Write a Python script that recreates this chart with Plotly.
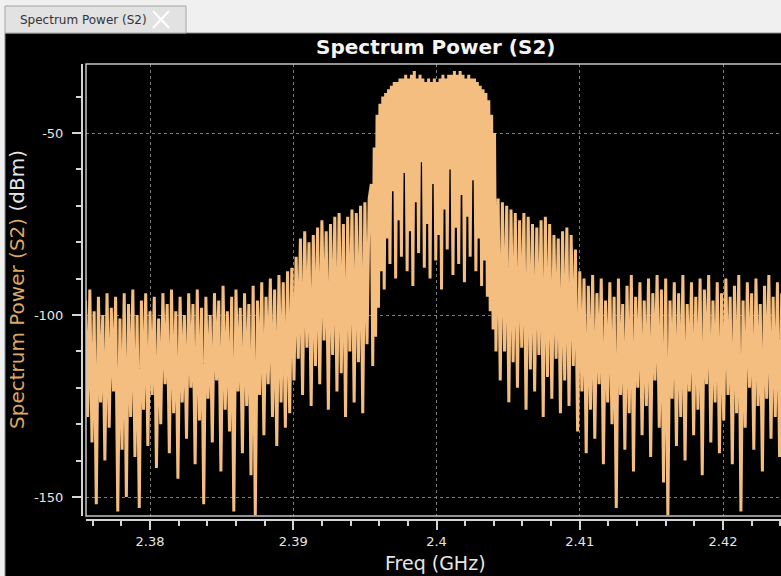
import numpy as np
import plotly.graph_objects as go

W, H = 781, 576

# ---------------- data ----------------
# each spectrum segment: its first frequency (GHz), its bin step (GHz) and its values (dBm)
floor_left_start_ghz, floor_left_step_ghz = 2.3755, 0.00015
floor_left_dbm = [
    -96, -128, -93, -135, -99, -152, -95, -124, -100, -140,
    -94, -131, -98, -121, -95, -154, -101, -137, -94, -150,
    -97, -128, -93, -139, -100, -153, -96, -126, -94, -136,
    -99, -122, -95, -142, -101, -130, -94, -119, -97, -138,
    -93, -127, -99, -145, -95, -124, -100, -134, -94, -120,
    -97, -141, -93, -129, -98, -152, -95, -123, -100, -135,
    -94, -118, -96, -143, -92, -126, -99, -132, -95, -154,
    -93, -121, -98, -138, -94, -125, -97, -144, -92, -155,
    -96, -122, -91, -133, -95, -119, -90, -128, -93, -136,
    -89, -124, -91, -131, -88, -127, -87,
]
shoulder_left_start_ghz, shoulder_left_step_ghz = 2.39005, 0.00015
shoulder_left_dbm = [
    -118, -84, -112, -79, -122, -77, -109, -80, -125, -78,
    -114, -76, -119, -74, -107, -77, -126, -75, -111, -73,
    -121, -72, -116, -75, -128, -73, -110, -71, -124, -72,
    -113, -70, -127, -69, -108, -68,
]
main_band_start_ghz, main_band_step_ghz = 2.39545, 0.0001
main_band_dbm = [
    -64, -114, -54, -106, -45, -98, -42, -88, -40, -93,
    -39, -79, -38, -86, -37, -66, -36, -90, -36, -74,
    -35, -84, -35, -61, -34, -88, -35, -77, -34, -92,
    -33, -69, -35, -83, -34, -58, -35, -87, -36, -75,
    -35, -90, -36, -64, -35, -85, -36, -78, -35, -93,
    -34, -71, -35, -82, -34, -60, -34, -89, -33, -76,
    -34, -86, -33, -67, -34, -91, -35, -73, -34, -84,
    -35, -63, -35, -88, -36, -79, -37, -92, -38, -85,
    -39, -95, -41, -99, -45, -104, -50, -110,
]
shoulder_right_start_ghz, shoulder_right_step_ghz = 2.4043, 0.00015
shoulder_right_dbm = [
    -68, -118, -69, -110, -70, -124, -71, -113, -72, -120,
    -74, -109, -72, -126, -73, -115, -75, -121, -76, -111,
    -74, -128, -73, -117, -75, -123, -78, -112, -79, -127,
    -77, -118, -76, -125, -78, -114, -82,
]
floor_right_start_ghz, floor_right_step_ghz = 2.40985, 0.00015
floor_right_dbm = [
    -132, -88, -121, -90, -138, -92, -126, -89, -134, -94,
    -119, -90, -141, -96, -124, -91, -130, -95, -153, -90,
    -122, -97, -137, -92, -127, -89, -143, -95, -120, -91,
    -133, -96, -125, -90, -139, -94, -118, -89, -131, -93,
    -146, -90, -155, -96, -123, -91, -136, -94, -128, -89,
    -140, -97, -121, -91, -133, -95, -126, -90, -144, -93,
    -119, -89, -135, -96, -124, -91, -138, -94, -129, -90,
    -122, -95, -141, -92, -127, -89, -154, -96, -131, -91,
    -120, -94, -137, -90, -125, -97, -143, -92, -123, -89,
    -134, -95, -128, -91, -139, -94, -121, -90,
]

x_tick_vals = [2.38, 2.39, 2.40, 2.41, 2.42]
x_tick_text = ["2.38", "2.39", "2.4", "2.41", "2.42"]
y_tick_vals = [-150, -100, -50]
y_tick_text = ["-150", "-100", "-50"]

title_text = "Spectrum Power (S2)"
x_title = "Freq (GHz)"
y_title_main = "Spectrum Power (S2)"
y_title_unit = "(dBm)"

segments = [
    (floor_left_start_ghz, floor_left_step_ghz, floor_left_dbm),
    (shoulder_left_start_ghz, shoulder_left_step_ghz, shoulder_left_dbm),
    (main_band_start_ghz, main_band_step_ghz, main_band_dbm),
    (shoulder_right_start_ghz, shoulder_right_step_ghz, shoulder_right_dbm),
    (floor_right_start_ghz, floor_right_step_ghz, floor_right_dbm),
]
freq_ghz = np.concatenate([s + st * np.arange(len(v)) for s, st, v in segments])
power_dbm = np.concatenate([np.asarray(v, dtype=float) for _, _, v in segments])

# ---------------- layout helpers (pixel -> paper) ----------------
def PX(x):
    return x / W


def PY(y):
    return 1 - y / H


BOX_L, BOX_T, BOX_B = 86, 64, 516
X_PX_PER_GHZ = 14325.0
X_REF_PX, X_REF_VAL = 150.0, 2.38
Y_PX_PER_DB = 3.64
Y_REF_PX, Y_REF_VAL = 133.0, -50.0

x_lo = X_REF_VAL - (X_REF_PX - BOX_L) / X_PX_PER_GHZ
x_hi = X_REF_VAL + (W - X_REF_PX) / X_PX_PER_GHZ
y_hi = Y_REF_VAL + (Y_REF_PX - BOX_T) / Y_PX_PER_DB
y_lo = Y_REF_VAL - (BOX_B - Y_REF_PX) / Y_PX_PER_DB

TRACE_COLOR = "#f3be80"
LABEL_ORANGE = "#dba866"
TEXT_COLOR = "#e6e6e6"
AXIS_COLOR = "#d4d4d4"
FONT = "DejaVu Sans"

fig = go.Figure()
fig.add_trace(go.Scatter(
    x=freq_ghz, y=power_dbm, mode="lines",
    line=dict(color=TRACE_COLOR, width=3.0),
    hoverinfo="skip", showlegend=False,
))

axis_common = dict(
    showline=True, linecolor=AXIS_COLOR, linewidth=2,
    ticks="outside", ticklen=9, tickwidth=1.5, tickcolor=AXIS_COLOR,
    tickfont=dict(family=FONT, size=13, color=TEXT_COLOR),
    showgrid=True, gridcolor="#7c7c7c", gridwidth=1, griddash="dot",
    zeroline=False, automargin=False,
)

fig.update_layout(
    width=W, height=H,
    margin=dict(l=0, r=0, t=0, b=0, pad=0),
    paper_bgcolor="#f0f0f0",
    plot_bgcolor="#000000",
    showlegend=False,
    xaxis=dict(
        domain=[PX(BOX_L), 1.0], range=[x_lo, x_hi],
        anchor="free", position=PY(520),
        tickmode="array", tickvals=x_tick_vals, ticktext=x_tick_text,
        minor=dict(dtick=0.002, tick0=2.38, ticks="outside", ticklen=5,
                   tickwidth=1.5, tickcolor=AXIS_COLOR, showgrid=False),
        **axis_common,
    ),
    yaxis=dict(
        domain=[PY(BOX_B), PY(BOX_T)], range=[y_lo, y_hi],
        anchor="free", position=PX(82),
        tickmode="array", tickvals=y_tick_vals, ticktext=y_tick_text,
        ticklabelstandoff=6,
        minor=dict(dtick=10, tick0=-150, ticks="outside", ticklen=5,
                   tickwidth=1.5, tickcolor=AXIS_COLOR, showgrid=False),
        **axis_common,
    ),
)

shapes = [
    # black panel
    dict(type="rect", xref="paper", yref="paper",
         x0=PX(5), x1=1.05, y0=PY(33), y1=PY(600),
         fillcolor="#000000", line=dict(color="#8e8e8e", width=1), layer="below"),
    # tab
    dict(type="rect", xref="paper", yref="paper",
         x0=PX(5), x1=PX(186), y0=PY(6), y1=PY(33),
         fillcolor="#e2e2e2", line=dict(color="#a4a4a4", width=1), layer="below"),
    # tab close "X"
    dict(type="line", xref="paper", yref="paper",
         x0=PX(153), x1=PX(169), y0=PY(11), y1=PY(28),
         line=dict(color="#ffffff", width=2)),
    dict(type="line", xref="paper", yref="paper",
         x0=PX(169), x1=PX(153), y0=PY(11), y1=PY(28),
         line=dict(color="#ffffff", width=2)),
    # plot box
    dict(type="rect", xref="paper", yref="paper",
         x0=PX(BOX_L), x1=1.05, y0=PY(BOX_B), y1=PY(BOX_T),
         fillcolor="rgba(0,0,0,0)", line=dict(color="#c4c4c4", width=1.5),
         layer="above"),
]

annotations = [
    dict(text=title_text, x=PX(18), y=PY(20), xref="paper", yref="paper",
         xanchor="left", yanchor="middle", showarrow=False,
         font=dict(family=FONT, size=12, color="#333333")),
    dict(text="<b>" + title_text + "</b>", x=PX(435.5), y=PY(47),
         xref="paper", yref="paper", xanchor="center", yanchor="middle",
         showarrow=False, font=dict(family=FONT, size=20, color="#f4f4f4")),
    dict(text=x_title, x=PX(435), y=PY(563), xref="paper", yref="paper",
         xanchor="center", yanchor="middle", showarrow=False,
         font=dict(family=FONT, size=19, color=TEXT_COLOR)),
    dict(text='<span style="color:%s">%s</span> %s' % (LABEL_ORANGE, y_title_main, y_title_unit),
         x=PX(17), y=PY(290), xref="paper", yref="paper",
         xanchor="center", yanchor="middle", textangle=-90, showarrow=False,
         font=dict(family=FONT, size=20, color=TEXT_COLOR)),
]

fig.update_layout(shapes=shapes, annotations=annotations)

fig.write_html("out.html", config={"displayModeBar": False})
